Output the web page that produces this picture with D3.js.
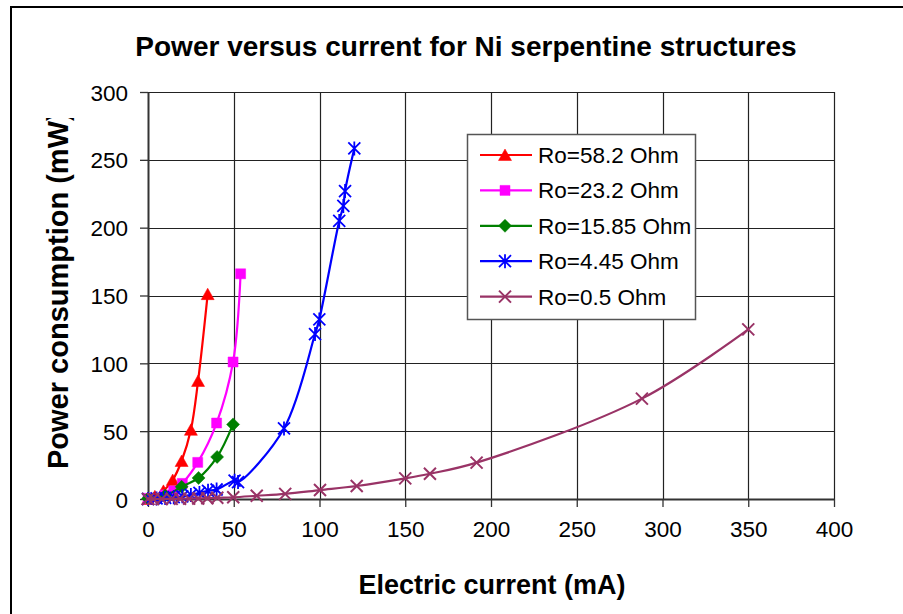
<!DOCTYPE html>
<html>
<head>
<meta charset="utf-8">
<script src="https://cdn.jsdelivr.net/npm/d3@7"></script>
<style>
  html, body { margin: 0; padding: 0; background: #fff; }
  svg { display: block; font-family: "Liberation Sans", Arial, Helvetica, sans-serif; }
</style>
</head>
<body>
<svg id="chart" width="903" height="614"></svg>
<script>
// ---------- data ----------
const chartTitle = "Power versus current for Ni serpentine structures";
const xTitle = "Electric current (mA)";
const yTitle = "Power consumption (mW)";
const xTicks = [0, 50, 100, 150, 200, 250, 300, 350, 400];
const yTicks = [0, 50, 100, 150, 200, 250, 300];

const seriesNames = ["Ro=58.2 Ohm", "Ro=23.2 Ohm", "Ro=15.85 Ohm", "Ro=4.45 Ohm", "Ro=0.5 Ohm"];

const currentR58 = [0, 4, 9, 14.4, 19.6, 25, 29.2, 34.8];
const powerR58   = [0, 2, 6, 14, 28, 51, 87, 151];

const currentR23 = [0, 10, 15, 20, 29, 40, 49.6, 54];
const powerR23   = [0.5, 3, 6, 11.5, 27, 56, 101, 166];

const currentR16 = [0, 10, 19.6, 29.5, 40.3, 49.6];
const powerR16   = [0.3, 2.5, 9, 15.5, 31, 55];

const currentR4 = [0, 5, 10, 15, 20, 25, 30, 35, 40, 50.5, 52.5, 79.3, 97.4, 99.9, 111.5, 113.9, 114.9, 120.3];
const powerR4   = [0, 0.4, 0.8, 1.3, 2, 3, 4.5, 6, 7, 13.5, 12.5, 52, 121.6, 132.4, 205, 216, 227, 258.4];

const currentR05 = [0, 3, 8, 13.8, 18.7, 24, 29.3, 34.6, 40.4, 49.7, 63.4, 80, 100.3, 121.7, 150, 164.4, 191.6, 288, 350];
const powerR05   = [0, 0, 0, 0.1, 0.2, 0.3, 0.4, 0.6, 0.9, 1.3, 2.4, 3.8, 6.6, 9.6, 15.2, 18.6, 26.8, 74, 125];

// ---------- styles ----------
const colors = ["#FF0000", "#FF00FF", "#008000", "#0000FF", "#993366"];
const markerKinds = ["triangle", "square", "diamond", "asterisk", "times"];

const seriesData = [
  d3.zip(currentR58, powerR58),
  d3.zip(currentR23, powerR23),
  d3.zip(currentR16, powerR16),
  d3.zip(currentR4, powerR4),
  d3.zip(currentR05, powerR05)
];

// ---------- layout ----------
const svg = d3.select("#chart");
const plot = { left: 148, top: 92, right: 834, bottom: 499 };

const x = d3.scaleLinear().domain([0, 400]).range([plot.left, plot.right]);
const y = d3.scaleLinear().domain([0, 300]).range([plot.bottom, plot.top]);

const defs = svg.append("defs");
defs.append("clipPath").attr("id", "ytclip")
  .append("rect").attr("x", 0).attr("y", 118).attr("width", 120).attr("height", 480);

// outer frame (cut off at right / bottom like the reference)
svg.append("rect")
  .attr("x", 11).attr("y", 7).attr("width", 920).attr("height", 640)
  .attr("fill", "#fff").attr("stroke", "#000").attr("stroke-width", 2);

// title
svg.append("text")
  .attr("x", 466).attr("y", 56)
  .attr("text-anchor", "middle")
  .attr("font-size", 28).attr("font-weight", "bold")
  .attr("fill", "#000")
  .text(chartTitle);

// gridlines
const grid = svg.append("g");
grid.selectAll("line.h").data(yTicks.filter(d => d > 0)).join("line")
  .attr("x1", plot.left).attr("x2", plot.right)
  .attr("y1", d => Math.round(y(d)) + 0.5).attr("y2", d => Math.round(y(d)) + 0.5)
  .attr("stroke", "#222").attr("stroke-width", 1.2);
grid.selectAll("line.v").data(xTicks.filter(d => d > 0)).join("line")
  .attr("y1", plot.top).attr("y2", plot.bottom)
  .attr("x1", d => Math.round(x(d)) + 0.5).attr("x2", d => Math.round(x(d)) + 0.5)
  .attr("stroke", "#222").attr("stroke-width", 1.2);

// axes
const yAxis = d3.axisLeft(y).tickValues(yTicks).tickSize(8).tickSizeOuter(0).tickPadding(12);
const xAxis = d3.axisBottom(x).tickValues(xTicks).tickSize(8).tickSizeOuter(0).tickPadding(14);

const gy = svg.append("g").attr("transform", `translate(${plot.left},0)`).call(yAxis);
const gx = svg.append("g").attr("transform", `translate(0,${plot.bottom})`).call(xAxis);

[gx, gy].forEach(g => {
  g.select(".domain").attr("stroke", "#333").attr("stroke-width", 2);
  g.selectAll(".tick line").attr("stroke", "#333").attr("stroke-width", 1.3);
  g.selectAll(".tick text")
    .attr("font-size", 22.5)
    .attr("font-family", "'Liberation Sans', Arial, sans-serif")
    .attr("fill", "#000");
});
gy.selectAll(".tick text").attr("dy", "0.36em");
gx.selectAll(".tick text").attr("dy", "0.72em");

// axis titles
svg.append("text")
  .attr("x", 492).attr("y", 594)
  .attr("text-anchor", "middle")
  .attr("font-size", 27).attr("font-weight", "bold")
  .text(xTitle);

svg.append("g").attr("clip-path", "url(#ytclip)")
  .append("text")
  .attr("transform", "translate(68,469) rotate(-90)")
  .attr("text-anchor", "start")
  .attr("font-size", 29).attr("font-weight", "bold")
  .text(yTitle);

// ---------- markers ----------
function markerPath(kind) {
  switch (kind) {
    case "triangle": return "M0,-6L6.5,5.5L-6.5,5.5Z";
    case "square":   return "M-5,-5H5V5H-5Z";
    case "diamond":  return "M0,-6.5L6.5,0L0,6.5L-6.5,0Z";
    case "asterisk": return "M-6,-6L6,6M-6,6L6,-6M0,-7L0,7";
    case "times":    return "M-6,-6L6,6M-6,6L6,-6";
  }
}
function styleMarker(sel, kind, color) {
  if (kind === "asterisk" || kind === "times") {
    sel.attr("fill", "none").attr("stroke", color).attr("stroke-width", kind === "times" ? 2 : 1.8);
  } else {
    sel.attr("fill", color).attr("stroke", color).attr("stroke-width", 0.5);
  }
}

const line = d3.line()
  .x(d => x(d[0])).y(d => y(d[1]))
  .curve(d3.curveCatmullRom.alpha(0.5));

const series = svg.append("g");
seriesData.forEach((data, i) => {
  const g = series.append("g");
  g.append("path")
    .attr("d", line(data))
    .attr("fill", "none")
    .attr("stroke", colors[i])
    .attr("stroke-width", 2.2)
    .attr("stroke-linejoin", "round");
  g.selectAll("path.m").data(data).join("path")
    .attr("class", "m")
    .attr("transform", d => `translate(${x(d[0])},${y(d[1])})`)
    .attr("d", markerPath(markerKinds[i]))
    .call(styleMarker, markerKinds[i], colors[i]);
});

// ---------- legend ----------
const legend = svg.append("g");
legend.append("rect")
  .attr("x", 467.5).attr("y", 134.5).attr("width", 228).attr("height", 185)
  .attr("fill", "#fff").attr("stroke", "#555").attr("stroke-width", 1.5);

seriesNames.forEach((name, i) => {
  const cy = 155 + i * 35.4;
  const row = legend.append("g");
  row.append("line")
    .attr("x1", 480).attr("x2", 532).attr("y1", cy).attr("y2", cy)
    .attr("stroke", colors[i]).attr("stroke-width", 2.2);
  row.append("path")
    .attr("transform", `translate(505,${cy})`)
    .attr("d", markerPath(markerKinds[i]))
    .call(styleMarker, markerKinds[i], colors[i]);
  row.append("text")
    .attr("x", 538).attr("y", cy + 8)
    .attr("font-size", 22.5)
    .attr("fill", "#000")
    .text(name);
});
</script>
</body>
</html>
